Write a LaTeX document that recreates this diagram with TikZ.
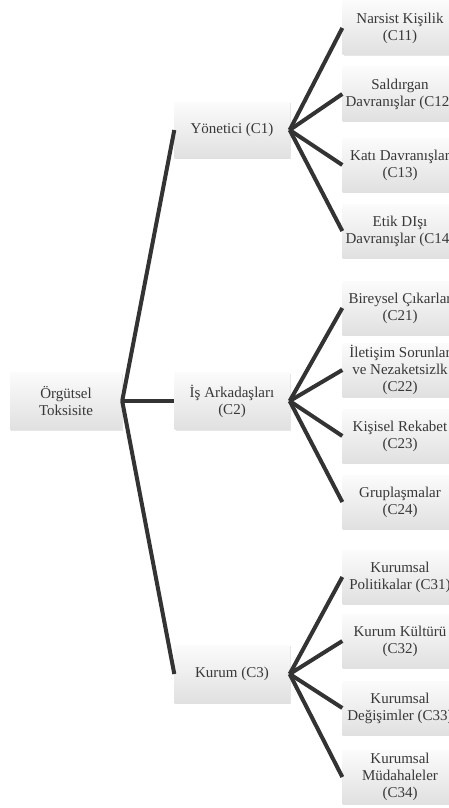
\documentclass[tikz,border=0pt]{standalone}
\usepackage{fontspec}
\setmainfont{Liberation Serif}
\usetikzlibrary{shadows}

\tikzset{
  kutu/.style={rectangle, top color=gray!3, bottom color=gray!24, draw=none,
    minimum width=115pt, minimum height=54pt, inner sep=2pt, align=center,
    font=\fontsize{15}{17}\selectfont, text=black!78,
    drop shadow={opacity=0.2, shadow xshift=1.2pt, shadow yshift=-1.2pt}},
  bag/.style={line width=4pt, draw=black!80}
}

\begin{document}
\begin{tikzpicture}[x=1pt, y=-1pt]
    \useasboundingbox (0,0) rectangle (449,808);

    \node[kutu, minimum width=112pt, minimum height=57pt] (c0) at (66,401) {Örgütsel\\Toksisite};

    \node[kutu, minimum height=56pt] (c1) at (232,130) {Yönetici (C1)};
    \node[kutu, minimum height=57pt] (c2) at (232,401) {İş Arkadaşları\\(C2)};
    \node[kutu, minimum height=58pt] (c3) at (232,674) {Kurum (C3)};

    \node[kutu] (c11) at (400,28) {Narsist Kişilik\\(C11)};
    \node[kutu] (c12) at (400,94) {Saldırgan\\Davranışlar (C12)};
    \node[kutu] (c13) at (400,165) {Katı Davranışlar\\(C13)};
    \node[kutu] (c14) at (400,231) {Etik DIşı\\Davranışlar (C14)};

    \node[kutu] (c21) at (400,308) {Bireysel Çıkarlar\\(C21)};
    \node[kutu] (c22) at (400,370) {İletişim Sorunlar\\ve Nezaketsizlk\\(C22)};
    \node[kutu] (c23) at (400,436) {Kişisel Rekabet\\(C23)};
    \node[kutu] (c24) at (400,502) {Gruplaşmalar\\(C24)};

    \node[kutu] (c31) at (400,577) {Kurumsal\\Politikalar (C31)};
    \node[kutu] (c32) at (400,641) {Kurum Kültürü\\(C32)};
    \node[kutu] (c33) at (400,708) {Kurumsal\\Değişimler (C33)};
    \node[kutu] (c34) at (400,777) {Kurumsal\\Müdahaleler\\(C34)};

    \draw[bag] (c0.east) -- (c1.west);
    \draw[bag] (c0.east) -- (c2.west);
    \draw[bag] (c0.east) -- (c3.west);

    \draw[bag] (c1.east) -- (c11.west);
    \draw[bag] (c1.east) -- (c12.west);
    \draw[bag] (c1.east) -- (c13.west);
    \draw[bag] (c1.east) -- (c14.west);

    \draw[bag] (c2.east) -- (c21.west);
    \draw[bag] (c2.east) -- (c22.west);
    \draw[bag] (c2.east) -- (c23.west);
    \draw[bag] (c2.east) -- (c24.west);

    \draw[bag] (c3.east) -- (c31.west);
    \draw[bag] (c3.east) -- (c32.west);
    \draw[bag] (c3.east) -- (c33.west);
    \draw[bag] (c3.east) -- (c34.west);
  \end{tikzpicture}
\end{document}
